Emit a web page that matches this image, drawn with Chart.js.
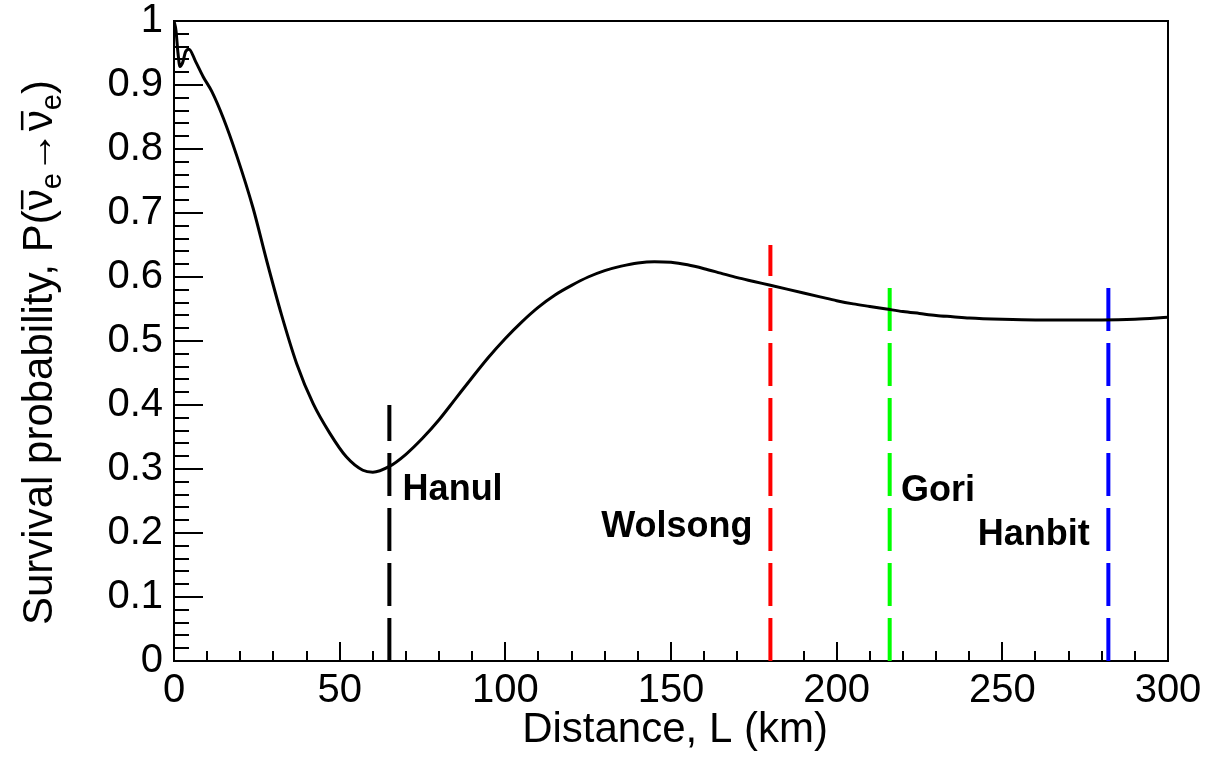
<!DOCTYPE html>
<html><head><meta charset="utf-8">
<script src="https://cdn.jsdelivr.net/npm/chart.js@4.4.0/dist/chart.umd.min.js"></script>
<style>html,body{margin:0;padding:0;background:#fff;} canvas{display:block;}</style>
</head><body>
<canvas id="c" width="1215" height="765"></canvas>
<script>
// ---- data ----
const distanceKm = [0, 0.6, 1.2, 1.8, 2.6, 3.5, 4.5, 6.5, 8.8, 11.4, 14.9, 18.9, 23.9, 28, 32.5, 37, 42, 47, 52, 57, 60, 65, 70, 75, 80, 85, 90, 95, 100, 105, 110, 115, 120, 125, 130, 135, 140, 145, 150, 155, 160, 165, 170, 175, 180, 185, 190, 195, 200, 205, 210, 215, 220, 225, 230, 235, 240, 250, 260, 270, 280, 290, 300];
const survivalProb = [1.0, 0.985, 0.95, 0.929, 0.935, 0.952, 0.956, 0.937, 0.913, 0.89, 0.848, 0.79, 0.707, 0.625, 0.540, 0.465, 0.402, 0.356, 0.319, 0.298, 0.295, 0.304, 0.323, 0.348, 0.377, 0.410, 0.443, 0.475, 0.504, 0.530, 0.553, 0.572, 0.587, 0.600, 0.610, 0.617, 0.622, 0.624, 0.623, 0.619, 0.613, 0.606, 0.599, 0.593, 0.587, 0.581, 0.575, 0.569, 0.563, 0.558, 0.554, 0.550, 0.546, 0.543, 0.540, 0.538, 0.536, 0.534, 0.533, 0.533, 0.533, 0.534, 0.537];

const reactorNames = ['Hanul', 'Wolsong', 'Gori', 'Hanbit'];
const reactorDistanceKm = [65, 180, 216, 282];
const reactorLineTop = [0.4, 0.65, 0.6, 0.6];
const reactorColors = ['#000000', '#ff0000', '#00ff00', '#0000ff'];

const xTickLabels = ['0', '50', '100', '150', '200', '250', '300'];
const yTickLabels = ['0', '0.1', '0.2', '0.3', '0.4', '0.5', '0.6', '0.7', '0.8', '0.9', '1'];

const xTitle = 'Distance, L (km)';

// annotation placement (data units) for reactor labels
const labelAnchorX = [69, 174.6, 219.4, 276.4];
const labelAnchorY = [0.2516, 0.194, 0.25, 0.181];
const labelAlign = ['left', 'right', 'left', 'right'];

const FONT = '"Liberation Sans", Arial, Helvetica, sans-serif';

const datasets = [{
  data: distanceKm.map((x, i) => ({x: x, y: survivalProb[i]})),
  borderColor: '#000',
  borderWidth: 3,
  pointRadius: 0,
  cubicInterpolationMode: 'monotone',
  fill: false
}];
reactorNames.forEach((n, i) => {
  datasets.push({
    data: [{x: reactorDistanceKm[i], y: 0}, {x: reactorDistanceKm[i], y: reactorLineTop[i]}],
    borderColor: reactorColors[i],
    borderWidth: 4,
    borderDash: [43, 12],
    borderCapStyle: 'butt',
    pointRadius: 0,
    fill: false
  });
});

const framePlugin = {
  id: 'frame',
  beforeDatasetsDraw(chart) {
    const {ctx, chartArea: {left, right, top, bottom}, scales: {x, y}} = chart;
    ctx.save();
    ctx.strokeStyle = '#000';
    ctx.lineWidth = 2;
    ctx.beginPath();
    for (let v = 0; v <= 300; v += 10) {
      const px = Math.round(x.getPixelForValue(v));
      const len = v % 50 === 0 ? 19 : 10;
      ctx.moveTo(px, bottom); ctx.lineTo(px, bottom - len);
    }
    for (let k = 0; k <= 50; k++) {
      const py = Math.round(y.getPixelForValue(k * 0.02));
      const len = k % 5 === 0 ? 29 : 15;
      ctx.moveTo(left, py); ctx.lineTo(left + len, py);
    }
    ctx.stroke();
    ctx.strokeRect(left, top, right - left, bottom - top);
    ctx.restore();
  },
  afterDraw(chart) {
    const {ctx, chartArea: {left, right, top, bottom}, scales: {x, y}} = chart;
    ctx.save();
    ctx.fillStyle = '#000';
    // reactor labels
    ctx.font = 'bold 36px ' + FONT;
    ctx.textBaseline = 'alphabetic';
    reactorNames.forEach((n, i) => {
      ctx.textAlign = labelAlign[i];
      ctx.fillText(n, x.getPixelForValue(labelAnchorX[i]), y.getPixelForValue(labelAnchorY[i]));
    });
    // x title
    ctx.font = '42px ' + FONT;
    ctx.textAlign = 'center';
    ctx.fillText(xTitle, (left + right) / 2 + 4, 742);
    // y title (rotated, with overlines and subscripts)
    ctx.translate(52, 625);
    ctx.rotate(-Math.PI / 2);
    ctx.textAlign = 'left';
    const F = 42, f = 29;
    const big = F + 'px ' + FONT, small = f + 'px ' + FONT;
    let cx = 0;
    function put(t, font, dy) { ctx.font = font; ctx.fillText(t, cx, dy || 0); cx += ctx.measureText(t).width; }
    function nuBar() {
      ctx.font = big;
      const w = ctx.measureText('\u03bd').width;
      ctx.fillText('\u03bd', cx, 0);
      ctx.fillRect(cx + 1, -F * 0.74, w - 2, 2.5);
      cx += w;
    }
    put('Survival probability, P(', big);
    nuBar(); put('e', small, 9);
    put('\u2192', big);
    nuBar(); put('e', small, 9);
    put(')', big);
    ctx.restore();
  }
};

new Chart(document.getElementById('c'), {
  type: 'line',
  data: {datasets: datasets},
  options: {
    responsive: false,
    animation: false,
    devicePixelRatio: 1,
    layout: {padding: {top: 21, right: 47, bottom: 0, left: 0}},
    plugins: {legend: {display: false}, tooltip: {enabled: false}},
    scales: {
      x: {
        type: 'linear', min: 0, max: 300,
        grid: {display: false, drawTicks: false},
        border: {display: false},
        ticks: {
          stepSize: 50, color: '#000', padding: 6, maxRotation: 0,
          font: {family: FONT, size: 40},
          callback: (v) => xTickLabels[Math.round(v / 50)]
        },
        afterFit: (s) => { s.height = 104; s.paddingLeft = 0; s.paddingRight = 0; }
      },
      y: {
        type: 'linear', min: 0, max: 1,
        grid: {display: false, drawTicks: false},
        border: {display: false},
        ticks: {
          stepSize: 0.1, color: '#000', padding: 11,
          font: {family: FONT, size: 40},
          callback: (v) => yTickLabels[Math.round(v * 10)]
        },
        afterFit: (s) => { s.width = 174; s.paddingTop = 0; s.paddingBottom = 0; }
      }
    }
  },
  plugins: [framePlugin]
});
</script>
</body></html>
